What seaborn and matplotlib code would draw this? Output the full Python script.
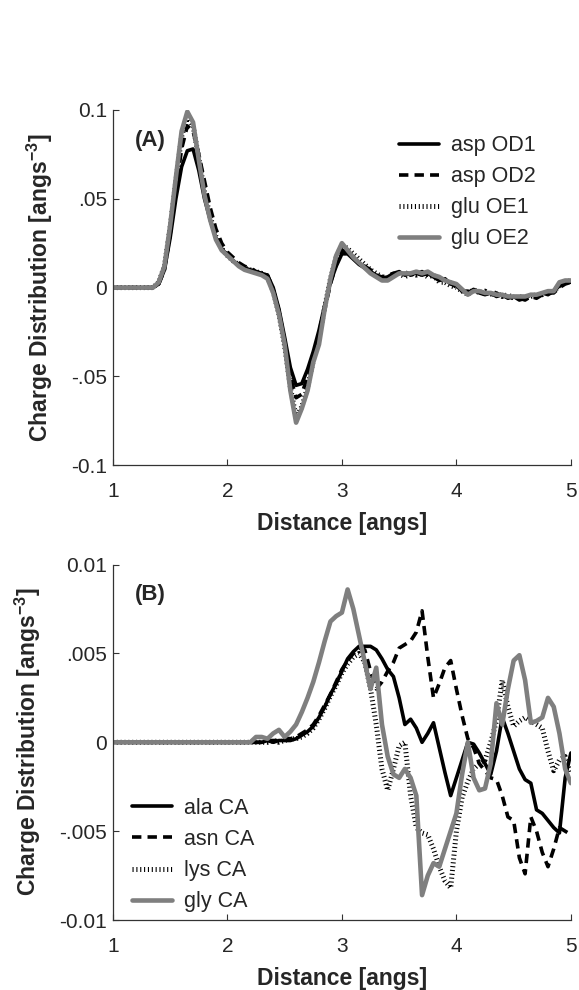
import numpy as np
import pandas as pd
import matplotlib
matplotlib.use("Agg")
import matplotlib.pyplot as plt
import seaborn as sns

# Radial sampling grid [angs]
distance = np.linspace(1.0, 5.0, 81)

# Panel (A): carboxylate oxygens
asp_od1 = [0, 0, 0, 0, 0, 0, 0, 0, 0.002, 0.010,
           0.028, 0.050, 0.068, 0.077, 0.078, 0.066, 0.050, 0.038, 0.028, 0.022,
           0.018, 0.015, 0.013, 0.011, 0.010, 0.009, 0.008, 0.007, 0.000, -0.012,
           -0.028, -0.045, -0.055, -0.054, -0.046, -0.036, -0.024, -0.010, 0.003, 0.012,
           0.019, 0.019, 0.016, 0.013, 0.011, 0.009, 0.007, 0.005, 0.006, 0.008,
           0.009, 0.007, 0.008, 0.008, 0.007, 0.008, 0.006, 0.004, 0.005, 0.002,
           0.001, -0.002, -0.003, -0.001, -0.003, -0.004, -0.003, -0.005, -0.004, -0.006,
           -0.005, -0.007, -0.006, -0.004, -0.005, -0.003, -0.004, -0.002, 0.001, 0.003,
           0.003]
asp_od2 = [0, 0, 0, 0, 0, 0, 0, 0, 0.002, 0.010,
           0.030, 0.055, 0.078, 0.091, 0.088, 0.075, 0.060, 0.045, 0.033, 0.025,
           0.020, 0.017, 0.014, 0.012, 0.011, 0.009, 0.008, 0.007, -0.001, -0.013,
           -0.030, -0.050, -0.062, -0.060, -0.050, -0.040, -0.027, -0.012, 0.002, 0.013,
           0.021, 0.020, 0.017, 0.014, 0.012, 0.010, 0.007, 0.006, 0.007, 0.008,
           0.008, 0.009, 0.007, 0.008, 0.009, 0.007, 0.007, 0.005, 0.004, 0.003,
           0.000, -0.002, -0.002, -0.003, -0.002, -0.004, -0.004, -0.003, -0.005, -0.005,
           -0.006, -0.006, -0.007, -0.005, -0.006, -0.004, -0.003, -0.003, 0.000, 0.002,
           0.003]
glu_oe1 = [0, 0, 0, 0, 0, 0, 0, 0, 0.003, 0.012,
           0.034, 0.060, 0.085, 0.096, 0.091, 0.073, 0.054, 0.040, 0.029, 0.022,
           0.018, 0.015, 0.013, 0.011, 0.010, 0.009, 0.008, 0.006, -0.002, -0.015,
           -0.033, -0.056, -0.073, -0.067, -0.056, -0.041, -0.028, -0.011, 0.005, 0.017,
           0.024, 0.022, 0.019, 0.016, 0.013, 0.010, 0.008, 0.006, 0.005, 0.007,
           0.008, 0.006, 0.008, 0.007, 0.008, 0.006, 0.007, 0.003, 0.003, 0.001,
           0.000, -0.002, -0.004, -0.001, -0.003, -0.002, -0.004, -0.003, -0.005, -0.004,
           -0.006, -0.005, -0.006, -0.005, -0.004, -0.004, -0.003, -0.002, 0.001, 0.003,
           0.004]
glu_oe2 = [0, 0, 0, 0, 0, 0, 0, 0, 0.003, 0.012,
           0.035, 0.062, 0.088, 0.099, 0.093, 0.072, 0.052, 0.038, 0.027, 0.021,
           0.018, 0.015, 0.012, 0.010, 0.009, 0.008, 0.007, 0.005, -0.003, -0.015,
           -0.032, -0.058, -0.076, -0.068, -0.058, -0.042, -0.032, -0.012, 0.005, 0.018,
           0.025, 0.021, 0.017, 0.014, 0.011, 0.008, 0.006, 0.004, 0.004, 0.006,
           0.008, 0.008, 0.008, 0.009, 0.008, 0.009, 0.007, 0.006, 0.004, 0.003,
           0.002, -0.001, -0.004, -0.002, -0.002, -0.003, -0.003, -0.004, -0.004, -0.005,
           -0.005, -0.005, -0.005, -0.004, -0.004, -0.003, -0.002, -0.002, 0.003, 0.004,
           0.004]

# Panel (B): alpha carbons
ala_ca = [0, 0, 0, 0, 0, 0, 0, 0, 0, 0,
          0, 0, 0, 0, 0, 0, 0, 0, 0, 0,
          0, 0, 0, 0, 0, 0, 0.0000, 0.0001, 0.0000, 0.0001,
          0.0001, 0.0001, 0.0002, 0.0004, 0.0006, 0.0009, 0.0014, 0.0020, 0.0027, 0.0033,
          0.0040, 0.0047, 0.0051, 0.0054, 0.0054, 0.0054, 0.0052, 0.0047, 0.0041, 0.0037,
          0.0025, 0.0010, 0.0013, 0.0008, 0.0000, 0.0005, 0.0011, -0.0003, -0.0017, -0.0030,
          -0.0020, -0.0010, 0.0000, -0.0001, -0.0006, -0.0012, -0.0018, -0.0005, 0.0014, 0.0005,
          -0.0005, -0.0015, -0.0021, -0.0023, -0.0038, -0.0040, -0.0044, -0.0048, -0.0051, -0.0020,
          -0.0006]
asn_ca = [0, 0, 0, 0, 0, 0, 0, 0, 0, 0,
          0, 0, 0, 0, 0, 0, 0, 0, 0, 0,
          0, 0, 0, 0, 0, 0, 0.0000, 0.0001, 0.0001, 0.0001,
          0.0002, 0.0002, 0.0003, 0.0005, 0.0007, 0.0010, 0.0015, 0.0021, 0.0027, 0.0034,
          0.0041, 0.0046, 0.0050, 0.0053, 0.0052, 0.0040, 0.0030, 0.0034, 0.0040, 0.0045,
          0.0053, 0.0055, 0.0057, 0.0062, 0.0074, 0.0048, 0.0025, 0.0033, 0.0042, 0.0046,
          0.0030, 0.0015, 0.0002, -0.0003, -0.0012, -0.0016, -0.0020, -0.0021, -0.0030, -0.0042,
          -0.0044, -0.0065, -0.0074, -0.0042, -0.0050, -0.0062, -0.0070, -0.0060, -0.0048, -0.0050,
          -0.0052]
lys_ca = [0, 0, 0, 0, 0, 0, 0, 0, 0, 0,
          0, 0, 0, 0, 0, 0, 0, 0, 0, 0,
          0, 0, 0, 0, 0, 0, 0, 0.0000, 0.0001, 0.0000,
          0.0001, 0.0002, 0.0002, 0.0003, 0.0005, 0.0008, 0.0013, 0.0019, 0.0026, 0.0032,
          0.0039, 0.0044, 0.0048, 0.0050, 0.0045, 0.0030, 0.0010, -0.0015, -0.0027, -0.0015,
          -0.0002, 0.0000, -0.0030, -0.0048, -0.0051, -0.0052, -0.0060, -0.0070, -0.0078, -0.0082,
          -0.0050, -0.0031, -0.0022, -0.0015, -0.0012, -0.0010, 0.0000, 0.0012, 0.0035, 0.0020,
          0.0009, 0.0012, 0.0014, 0.0012, 0.0010, 0.0008, -0.0005, -0.0016, -0.0010, -0.0008,
          -0.0018]
gly_ca = [0, 0, 0, 0, 0, 0, 0, 0, 0, 0,
          0, 0, 0, 0, 0, 0, 0, 0, 0, 0,
          0, 0, 0, 0, 0.0000, 0.0003, 0.0003, 0.0002, 0.0005, 0.0007,
          0.0003, 0.0006, 0.0010, 0.0017, 0.0025, 0.0034, 0.0045, 0.0057, 0.0068, 0.0071,
          0.0073, 0.0086, 0.0075, 0.0060, 0.0045, 0.0030, 0.0042, 0.0010, -0.0008, -0.0018,
          -0.0020, -0.0015, -0.0020, -0.0030, -0.0086, -0.0075, -0.0068, -0.0070, -0.0060, -0.0050,
          -0.0040, -0.0018, 0.0000, -0.0020, -0.0027, -0.0026, -0.0012, 0.0022, 0.0010, 0.0030,
          0.0046, 0.0049, 0.0035, 0.0011, 0.0012, 0.0014, 0.0025, 0.0020, 0.0005, -0.0015,
          -0.0023]

labels_a = ["asp OD1", "asp OD2", "glu OE1", "glu OE2"]
labels_b = ["ala CA", "asn CA", "lys CA", "gly CA"]
ticks_a = [-0.1, -0.05, 0, 0.05, 0.1]
ticklabels_a = ["-0.1", "-.05", "0", ".05", "0.1"]
ticks_b = [-0.01, -0.005, 0, 0.005, 0.01]
ticklabels_b = ["-0.01", "-.005", "0", ".005", "0.01"]
xticks = [1, 2, 3, 4, 5]

sns.set_style("ticks")
plt.rcParams["font.family"] = ["Liberation Sans", "DejaVu Sans"]
plt.rcParams["mathtext.fontset"] = "custom"
plt.rcParams["mathtext.rm"] = "Liberation Sans"
plt.rcParams["mathtext.bf"] = "Liberation Sans:bold"

GRAY = "#7f7f7f"
styles = [
    dict(color="black", lw=2.6, linestyle="-"),
    dict(color="black", lw=2.6, linestyle=(0, (2.6, 1.7)), dash_capstyle="butt"),
    dict(color="black", lw=3.6, linestyle=(0, (0.22, 0.55)), dash_capstyle="butt"),
    dict(color=GRAY, lw=3.3, linestyle="-"),
]

fig = plt.figure(figsize=(5.79, 9.90), dpi=100)
ax_a = fig.add_axes([0.195, 0.530, 0.791, 0.359])
ax_b = fig.add_axes([0.195, 0.0707, 0.791, 0.359])


def draw_panel(ax, series, labels, yticks, yticklabels, ylim, tag,
               ylabel_x, legend_kw):
    frame = pd.DataFrame({"distance": distance})
    for vals, lab, st in zip(series, labels, styles):
        frame[lab] = vals
        sns.lineplot(data=frame, x="distance", y=lab, ax=ax, label=lab,
                     sort=False, errorbar=None, **st)
    ax.set_xlim(1, 5)
    ax.set_ylim(*ylim)
    ax.set_xticks(xticks)
    ax.set_xticklabels([str(t) for t in xticks])
    ax.set_yticks(yticks)
    ax.set_yticklabels(yticklabels)
    ax.tick_params(direction="in", length=4, width=0.8, labelsize=15,
                   color="#333333")
    ax.tick_params(axis="y", pad=4)
    ax.tick_params(axis="x", pad=12)
    for side in ("top", "right"):
        ax.spines[side].set_visible(False)
    for side in ("left", "bottom"):
        ax.spines[side].set_linewidth(0.9)
        ax.spines[side].set_color("#333333")
    ax.set_xlabel("Distance [angs]", fontsize=16.5, fontweight="bold")
    ax.xaxis.set_label_coords(0.5, -0.132)
    ax.set_ylabel(r"Charge Distribution [angs$^{\mathbf{-3}}$]", fontsize=16.5,
                  fontweight="bold")
    ax.yaxis.set_label_coords(ylabel_x, 0.5)
    ax.text(0.048, 0.915, tag, transform=ax.transAxes, fontsize=16,
            fontweight="bold", va="center", ha="left")
    ax.legend(frameon=False, fontsize=15.5, handlelength=1.85,
              handletextpad=0.6, labelspacing=0.47, borderpad=0,
              borderaxespad=0, **legend_kw)


draw_panel(ax_a, [asp_od1, asp_od2, glu_oe1, glu_oe2], labels_a,
           ticks_a, ticklabels_a, (-0.1, 0.1), "(A)", -0.127,
           dict(loc="upper left", bbox_to_anchor=(0.624, 0.929)))
draw_panel(ax_b, [ala_ca, asn_ca, lys_ca, gly_ca], labels_b,
           ticks_b, ticklabels_b, (-0.01, 0.01), "(B)", -0.153,
           dict(loc="lower left", bbox_to_anchor=(0.041, 0.022)))

fig.savefig("out.png", dpi=100, facecolor="white")
